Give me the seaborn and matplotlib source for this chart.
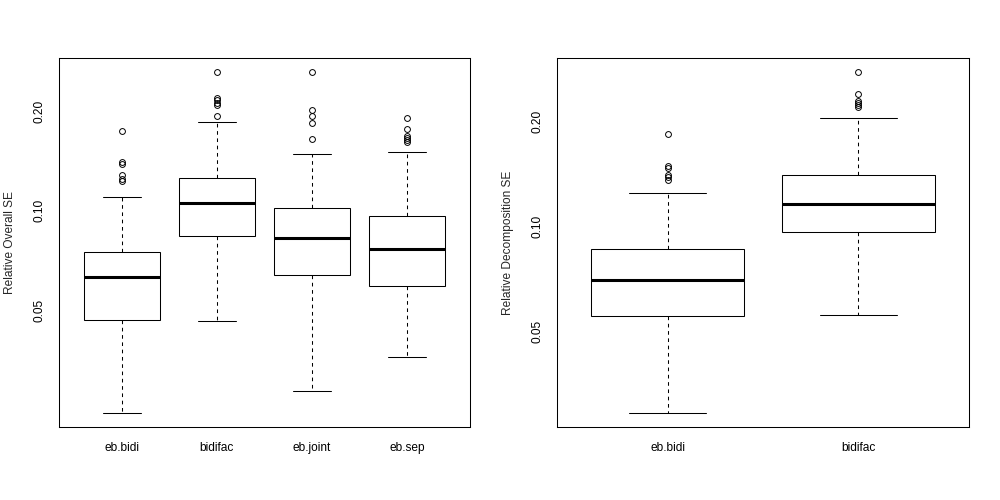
import numpy as np
import pandas as pd
import matplotlib
matplotlib.use("Agg")
import matplotlib.pyplot as plt
import seaborn as sns
from matplotlib.ticker import FixedLocator, FixedFormatter, NullLocator

# Relative overall SE: five-number summaries + outliers
overall_methods = ["eb.bidi", "bidifac", "eb.joint", "eb.sep"]
overall_whislo = [0.0244, 0.0463, 0.0285, 0.0361]
overall_q1 = [0.0467, 0.0838, 0.0638, 0.0591]
overall_med = [0.0630, 0.1057, 0.0824, 0.0763]
overall_q3 = [0.0751, 0.1259, 0.1016, 0.0966]
overall_whishi = [0.1103, 0.1854, 0.1482, 0.1503]
overall_fliers = [
    [0.1225, 0.1248, 0.1277, 0.1382, 0.1406, 0.1746],
    [0.1932, 0.2087, 0.2116, 0.2152, 0.2192, 0.2630],
    [0.1642, 0.1845, 0.1929, 0.2012, 0.2618],
    [0.1616, 0.1631, 0.1654, 0.1677, 0.1765, 0.1902],
]

# Relative decomposition SE
decomp_methods = ["eb.bidi", "bidifac"]
decomp_whislo = [0.0292, 0.0558]
decomp_q1 = [0.0553, 0.0964]
decomp_med = [0.0701, 0.1162]
decomp_q3 = [0.0861, 0.1402]
decomp_whishi = [0.1248, 0.2051]
decomp_fliers = [
    [0.1363, 0.1384, 0.1402, 0.1469, 0.1492, 0.1845],
    [0.2200, 0.2229, 0.2259, 0.2280, 0.2393, 0.2775],
]

y_ticks = [0.05, 0.10, 0.20]
y_ticklabels = ["0.05", "0.10", "0.20"]


def summary_table(methods, whislo, q1, med, q3, whishi, fliers):
    """Long table whose quartiles/whiskers reproduce the given summaries."""
    rows = []
    for i, m in enumerate(methods):
        k = len(fliers[i]) + 1
        vals = ([whislo[i]] + [q1[i]] * k + [med[i]] * k + [q3[i]] * k
                + [whishi[i]] + list(fliers[i]))
        rows += [(m, v) for v in vals]
    return pd.DataFrame(rows, columns=["method", "se"])


def r_boxplot(ax, df, n, ylabel):
    sns.boxplot(
        data=df, x="method", y="se", ax=ax, width=0.8, whis=1.5,
        color="white", saturation=1, linecolor="black", linewidth=0.75,
        medianprops=dict(linewidth=2.2, color="black"),
        whiskerprops=dict(linestyle=(0, (3.5, 3.5)), linewidth=0.75),
        capprops=dict(linewidth=0.75),
        flierprops=dict(marker="o", markerfacecolor="none",
                        markeredgecolor="black", markersize=4.2,
                        markeredgewidth=0.7),
    )
    ax.set_yscale("log")
    lo, hi = np.log10(df["se"].min()), np.log10(df["se"].max())
    pad = 0.04 * (hi - lo)
    ax.set_ylim(10 ** (lo - pad), 10 ** (hi + pad))
    ax.set_xlim(-0.5 - 0.04 * n, n - 0.5 + 0.04 * n)
    ax.yaxis.set_major_locator(FixedLocator(y_ticks))
    ax.yaxis.set_major_formatter(FixedFormatter(y_ticklabels))
    ax.yaxis.set_minor_locator(NullLocator())
    for lab in ax.get_yticklabels():
        lab.set_rotation(90)
        lab.set_va("center")
    ax.tick_params(axis="both", direction="out", length=5, width=0.75,
                   labelsize=8.6, colors="black", pad=6)
    ax.tick_params(axis="y", pad=5)
    ax.set_xlabel("")
    ax.set_ylabel(ylabel, fontsize=8.6, labelpad=12)
    for sp in ax.spines.values():
        sp.set_visible(True)
        sp.set_color("black")
        sp.set_linewidth(0.75)


sns.set_style("white")
plt.rcParams["font.family"] = ["Liberation Sans", "DejaVu Sans"]

fig = plt.figure(figsize=(10, 5), dpi=100)
ax1 = fig.add_axes([0.059, 0.146, 0.411, 0.738])
ax2 = fig.add_axes([0.557, 0.146, 0.412, 0.738])

overall_df = summary_table(overall_methods, overall_whislo, overall_q1,
                           overall_med, overall_q3, overall_whishi,
                           overall_fliers)
decomp_df = summary_table(decomp_methods, decomp_whislo, decomp_q1,
                          decomp_med, decomp_q3, decomp_whishi,
                          decomp_fliers)

r_boxplot(ax1, overall_df, len(overall_methods), "Relative Overall SE")
r_boxplot(ax2, decomp_df, len(decomp_methods), "Relative Decomposition SE")

fig.savefig("out.png", dpi=100, facecolor="white")
